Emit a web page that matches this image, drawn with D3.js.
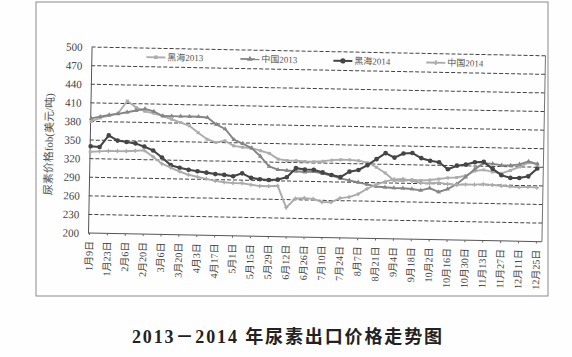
<!DOCTYPE html>
<html><head><meta charset="utf-8">
<script src="https://cdn.jsdelivr.net/npm/d3@7/dist/d3.min.js"></script>
<style>
body{margin:0;background:#fff;}
svg{display:block;}
</style></head>
<body>
<svg id="c" width="572" height="357"></svg>
<script>
// ---- data ----
const categories = ["1月9日","1月16日","1月23日","1月30日","2月6日","2月13日","2月20日","2月27日","3月6日","3月13日","3月20日","3月27日","4月3日","4月10日","4月17日","4月24日","5月1日","5月8日","5月15日","5月22日","5月29日","6月5日","6月12日","6月19日","6月26日","7月3日","7月10日","7月17日","7月24日","7月31日","8月7日","8月14日","8月21日","8月28日","9月4日","9月11日","9月18日","9月25日","10月2日","10月9日","10月16日","10月23日","10月30日","11月6日","11月13日","11月20日","11月27日","12月4日","12月11日","12月18日","12月25日"];
const tickLabels = ["1月9日","1月23日","2月6日","2月20日","3月6日","3月20日","4月3日","4月17日","5月1日","5月15日","5月29日","6月12日","6月26日","7月10日","7月24日","8月7日","8月21日","9月4日","9月18日","10月2日","10月16日","10月30日","11月13日","11月27日","12月11日","12月25日"];
const yTicks = [200,230,260,290,320,350,380,410,440,470,500];
const seriesNames = ["黑海2013","中国2013","黑海2014","中国2014"];
const heihai2013 = [380,386,390,394,414,404,398,395,391,386,381,376,365,355,350,353,345,343,342,338,334,325,323,323,322,322,323,325,326,326,325,322,315,306,294,294,296,295,296,298,300,301,304,312,314,311,309,314,320,327,325];
const zhongguo2013 = [385,388,391,393,396,399,402,398,391,391,391,391,391,390,379,372,355,349,342,329,313,308,307,306,305,306,303,300,296,293,290,287,284,283,282,282,281,279,283,277,282,290,302,315,325,324,322,322,324,329,325];
const heihai2014 = [340,339,358,350,348,346,341,335,324,312,308,305,303,301,299,298,296,301,294,292,291,292,296,311,309,309,305,301,298,307,310,318,328,338,331,338,339,331,327,325,314,320,322,326,327,316,306,302,302,305,318];
const zhongguo2014 = [331,332,333,333,333,334,335,325,314,308,302,297,294,291,288,286,285,285,283,281,281,282,247,262,263,262,257,257,264,266,271,280,287,292,296,297,294,291,291,292,290,289,290,290,291,290,289,288,287,288,287];

const svg = d3.select("#c");
svg.append("rect").attr("width",572).attr("height",357).attr("fill","#fefefe");
// outer frame
svg.append("rect").attr("x",36).attr("y",2).attr("width",512).attr("height",294)
  .attr("fill","none").attr("stroke","#8a8a8a").attr("stroke-width",1);

const L=88,R=542,T=47,B=233;
const g = svg.append("g").attr("transform",`rotate(1.1,${L},${B})`);

const x = d3.scalePoint().domain(categories).range([89,536]);
const y = d3.scaleLinear().domain([200,500]).range([B,T]);

// gridlines
g.append("g").selectAll("line").data(yTicks.filter(v=>v>200)).join("line")
  .attr("x1",L).attr("x2",R).attr("y1",d=>y(d)).attr("y2",d=>y(d))
  .attr("stroke","#444").attr("stroke-width",1).attr("stroke-dasharray","4,2");
// borders
g.append("line").attr("x1",R).attr("x2",R).attr("y1",T).attr("y2",B).attr("stroke","#666").attr("stroke-width",0.9);

// y axis
const ya = g.append("g").attr("transform",`translate(${L},0)`)
  .call(d3.axisLeft(y).tickValues(yTicks).tickSize(0).tickPadding(9));
ya.select(".domain").attr("stroke","#555").attr("stroke-width",1);
ya.selectAll("text").attr("font-family","'Liberation Serif',serif").attr("font-size",11).attr("fill","#444");

// x axis
const xa = g.append("g").attr("transform",`translate(0,${B})`)
  .call(d3.axisBottom(x).tickValues(tickLabels).tickSizeInner(2).tickSizeOuter(0));
xa.select(".domain").attr("stroke","#555").attr("stroke-width",1).attr("d",`M${L},0H${R}`);
xa.selectAll("line").attr("stroke","#666");
xa.selectAll("text").attr("transform","rotate(-90)").attr("x",-8).attr("y",0).attr("dy","0.35em")
  .attr("text-anchor","end").attr("font-family","'Liberation Serif','Noto Sans CJK SC',serif")
  .attr("font-size",10).attr("fill","#444");

// y title
g.append("text").attr("transform",`translate(51,${(T+B)/2+5}) rotate(-90)`)
  .attr("text-anchor","middle").attr("font-family","'Liberation Serif','Noto Sans CJK SC',serif")
  .attr("font-size",11).attr("fill","#555").text("尿素价格fob(美元/吨)");

// series
const styles = [
  {data:heihai2013, color:"#adadad", w:1.9, sym:d3.symbolSquare, size:9},
  {data:zhongguo2013, color:"#858585", w:1.9, sym:d3.symbolTriangle, size:10},
  {data:heihai2014, color:"#454545", w:2.1, sym:d3.symbolCircle, size:17},
  {data:zhongguo2014, color:"#ababab", w:1.9, sym:d3.symbolCross, size:9}
];
const line = d3.line().x((d,i)=>x(categories[i])).y(d=>y(d));
styles.forEach(s=>{
  g.append("path").datum(s.data).attr("d",line).attr("fill","none")
    .attr("stroke",s.color).attr("stroke-width",s.w).attr("stroke-linejoin","round");
  g.append("g").selectAll("path").data(s.data).join("path")
    .attr("transform",(d,i)=>`translate(${x(categories[i])},${y(d)})`)
    .attr("d",d3.symbol().type(s.sym).size(s.size)).attr("fill",s.color);
});

// legend
const legX = [143,237,330,423];
seriesNames.forEach((n,k)=>{
  const s = styles[k];
  const lg = g.append("g").attr("transform",`translate(${legX[k]},56)`);
  lg.append("line").attr("x1",0).attr("x2",19).attr("stroke",s.color).attr("stroke-width",s.w);
  lg.append("path").attr("transform","translate(9.5,0)").attr("d",d3.symbol().type(s.sym).size(s.size+4)).attr("fill",s.color);
  lg.append("text").attr("x",21).attr("y",3).attr("font-family","'Liberation Serif','Noto Sans CJK SC',serif")
    .attr("font-size",9).attr("fill","#555").text(n);
});

// title
svg.append("text").attr("x",287).attr("y",343).attr("text-anchor","middle")
  .attr("font-family","'Liberation Serif','Noto Sans CJK SC',serif").attr("font-weight","bold")
  .attr("font-size",18).attr("fill","#222").attr("textLength",310).attr("lengthAdjust","spacing")
  .text("2013－2014 年尿素出口价格走势图");
</script>
</body></html>
